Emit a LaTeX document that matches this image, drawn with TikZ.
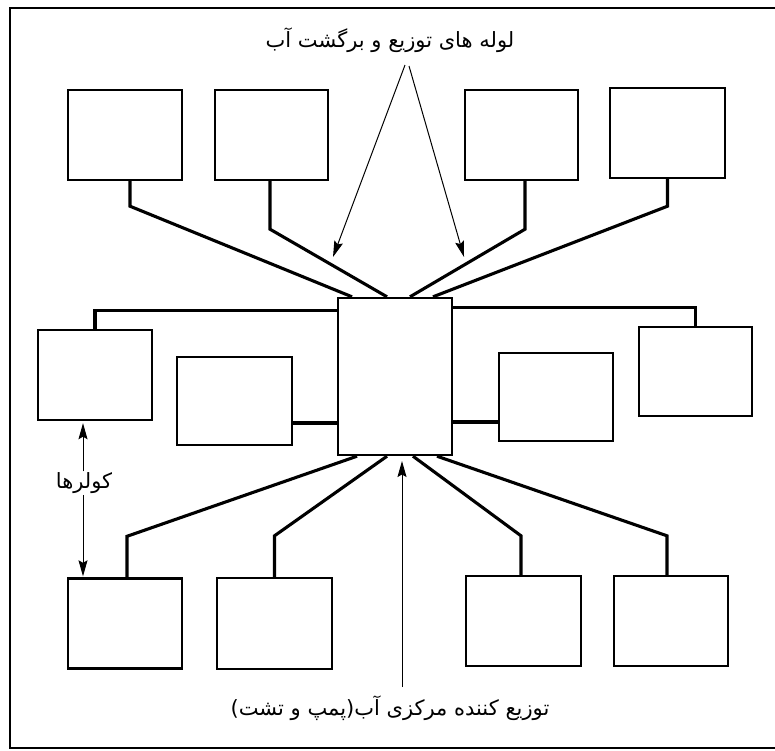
\documentclass[tikz,border=0pt]{standalone}
\usepackage{fontspec}
\newfontfamily\arabicfont[Script=Arabic]{DejaVu Sans}
\TeXXeTstate=1
\usetikzlibrary{arrows.meta}
\tikzset{
  box/.style={draw, line width=2.4pt, fill=white, inner sep=0pt},
  pipe/.style={draw, line width=3.1pt, line join=miter},
  ptr/.style={draw, line width=1pt, -{Stealth[length=16pt,width=9pt,inset=2.5pt]}},
  frame/.style={draw, line width=1.8pt},
  lbl/.style={font=\arabicfont\fontsize{21}{25}\selectfont, inner sep=1pt, fill=white}
}
\begin{document}
\begin{tikzpicture}[x=1pt,y=-1pt]
\useasboundingbox (0,0) rectangle (775,750);
\fill[white] (0,0) rectangle (775,750);
\draw[frame] (775,8) -- (10,8) -- (10,748) -- (775,748);

% top row
\node[box, minimum width=114pt, minimum height=90pt] (t1) at (125,135) {};
\node[box, minimum width=113pt, minimum height=90pt] (t2) at (271.5,135) {};
\node[box, minimum width=113pt, minimum height=90pt] (t3) at (521.5,135) {};
\node[box, minimum width=115pt, minimum height=90pt] (t4) at (667.5,133) {};
% centre
\node[box, minimum width=114pt, minimum height=157pt] (c) at (395,376.5) {};
% middle row
\node[box, minimum width=114pt, minimum height=90pt] (m1) at (95,375) {};
\node[box, minimum width=115pt, minimum height=88pt] (m2) at (234.5,401) {};
\node[box, minimum width=114pt, minimum height=88pt] (m3) at (556,397) {};
\node[box, minimum width=113pt, minimum height=89pt] (m4) at (695.5,371.5) {};
% bottom row
\node[box, minimum width=114pt, minimum height=90pt] (b1) at (125,623.5) {};
\node[box, minimum width=115pt, minimum height=91pt] (b2) at (274.5,623.5) {};
\node[box, minimum width=115pt, minimum height=90pt] (b3) at (523.5,621) {};
\node[box, minimum width=114pt, minimum height=90pt] (b4) at (671,621) {};

% pipes top
\draw[pipe] ([xshift=5pt]t1.south) -- ++(0,25) -- ([xshift=-43pt]c.north);
\draw[pipe] ([xshift=-1.5pt]t2.south) -- ++(0,48) -- ([xshift=-8pt]c.north);
\draw[pipe] ([xshift=3.5pt]t3.south) -- ++(0,48) -- ([xshift=15pt]c.north);
\draw[pipe] (t4.south) -- ++(0,27) -- ([xshift=38pt]c.north);
% pipes middle
\draw[pipe] (m1.north) |- ([yshift=-14pt]c.north west);
\draw[pipe] (m4.north) |- ([yshift=-11pt]c.north east);
\draw[pipe] ([yshift=-22pt]m2.east) -- ([yshift=-22pt]m2.east -| c.west);
\draw[pipe] ([yshift=-25pt]m3.west) -- ([yshift=-25pt]m3.west -| c.east);
% pipes bottom
\draw[pipe] ([xshift=2pt]b1.north) -- ++(0,-41) -- ([xshift=-38pt]c.south);
\draw[pipe] (b2.north) -- ++(0,-41) -- ([xshift=-8pt]c.south);
\draw[pipe] ([xshift=-2.5pt]b3.north) -- ++(0,-39) -- ([xshift=18pt]c.south);
\draw[pipe] ([xshift=-4pt]b4.north) -- ++(0,-39) -- ([xshift=42pt]c.south);

% labels
\node[lbl] (ltop) at (390,40) {\beginR لوله های توزیع و برگشت آب\endR};
\node[lbl] (lbot) at (390,708) {\beginR توزیع کننده مرکزی آب(پمپ و تشت)\endR};

\coordinate (a1) at (405,65);
\coordinate (a2) at (409,66);
\coordinate (tipL) at (333,257);
\coordinate (tipR) at (464,257);
\draw[ptr] (a1) -- (tipL);
\draw[ptr] (a2) -- (tipR);

\coordinate (cb) at (402,687);
\coordinate (ctip) at (402,461);
\draw[ptr] (cb) -- (ctip);

\node[lbl] (lk) at (84,483) {\beginR کولرها\endR};
\draw[ptr] (lk.north -| 83,0) -- ([xshift=-12pt,yshift=-2pt]m1.south);
\draw[ptr] (lk.south -| 83,0) -- ([xshift=-42pt,yshift=1pt]b1.north);
\end{tikzpicture}
\end{document}
